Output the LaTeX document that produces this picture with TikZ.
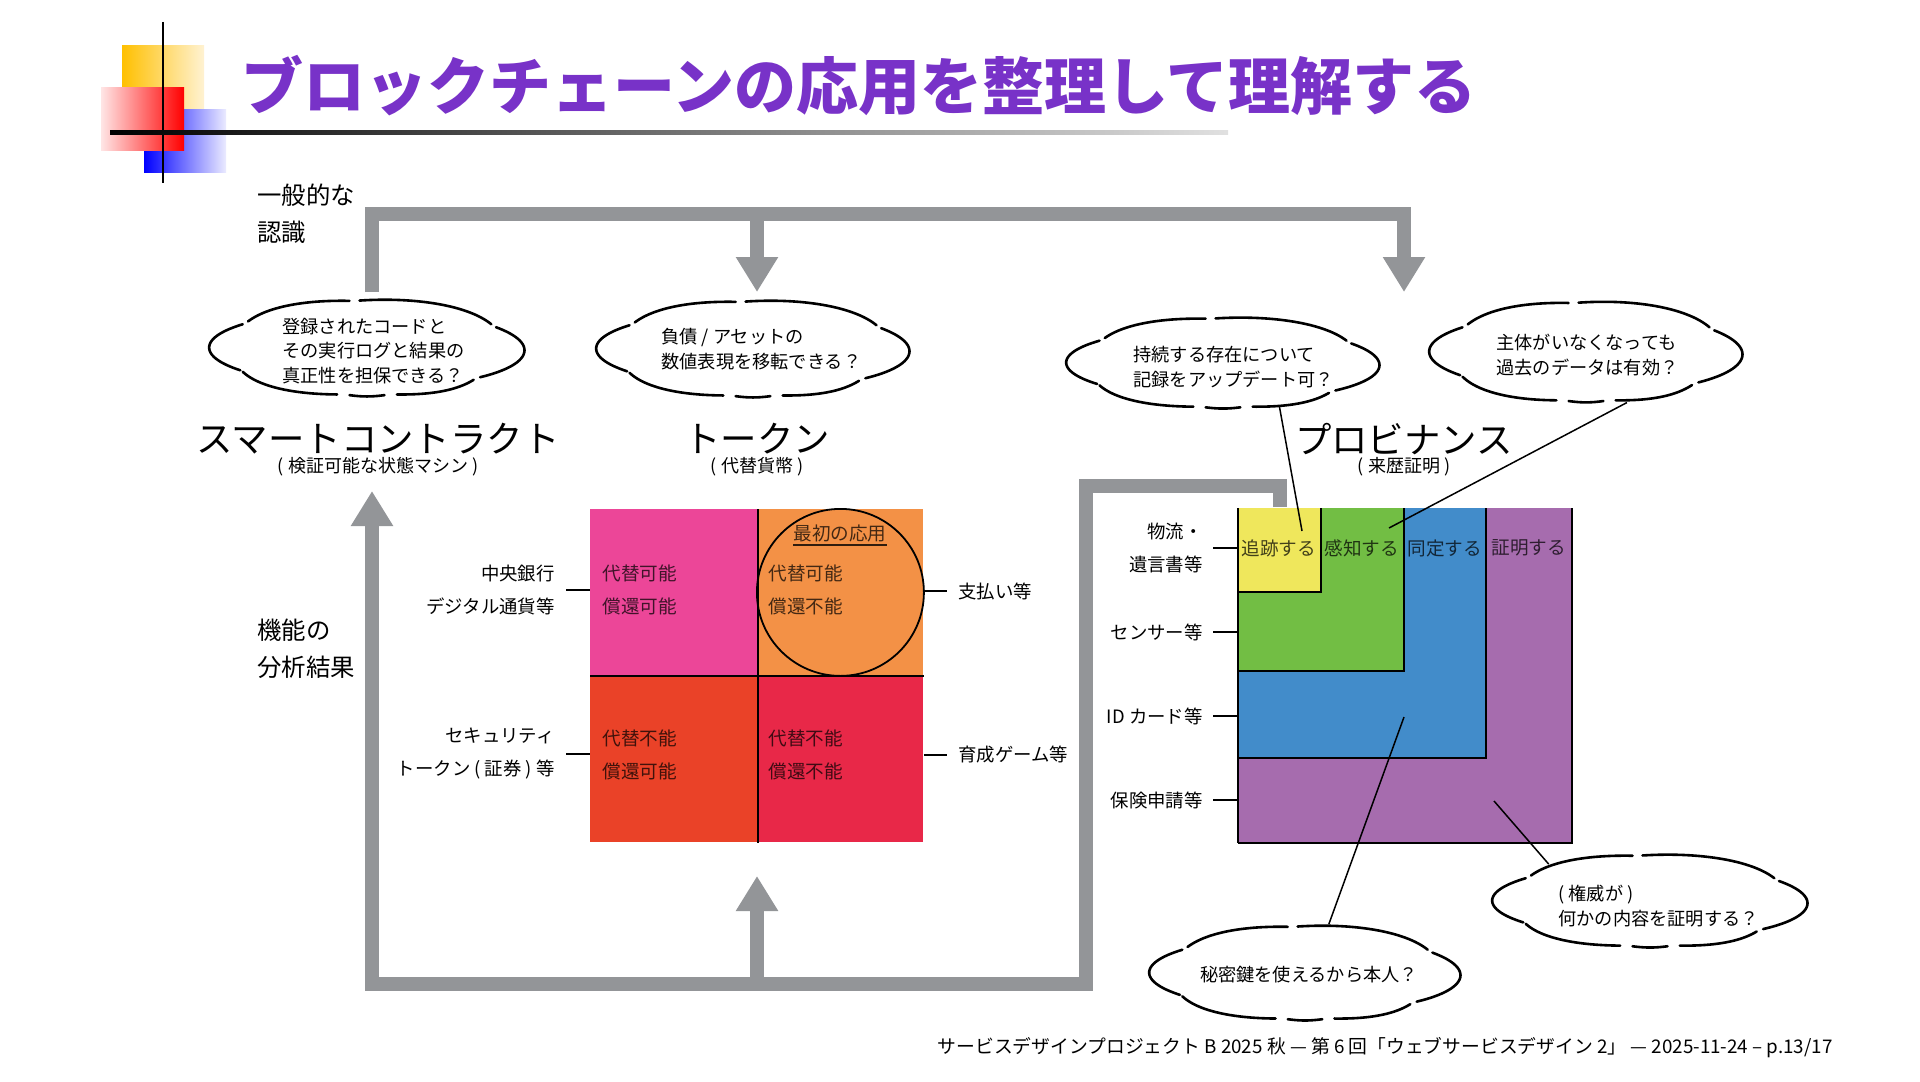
\documentclass[tikz,border=0pt]{standalone}
\usepackage{fontspec}
\setmainfont{Noto Sans CJK JP}
\usetikzlibrary{arrows.meta,shapes.geometric}
\definecolor{titlepurple}{RGB}{120,50,200}
\definecolor{gbar}{RGB}{147,149,152}
\definecolor{cpink}{RGB}{236,70,152}
\definecolor{corange}{RGB}{243,145,70}
\definecolor{cred}{RGB}{234,66,40}
\definecolor{ccrimson}{RGB}{232,40,72}
\definecolor{ppurple}{RGB}{166,108,174}
\definecolor{pblue}{RGB}{66,140,202}
\definecolor{pgreen}{RGB}{114,190,68}
\definecolor{pyellow}{RGB}{239,231,92}
\definecolor{decoyellow}{RGB}{255,192,0}
\definecolor{decoyellowl}{RGB}{255,242,210}
\newcommand{\fsz}[2]{\fontsize{#1}{#2}\selectfont}
% cloud: name, cx, cy, a, b (px)
\newcommand{\cloudoutline}[5]{%
  \node[ellipse, minimum width=#4pt, minimum height=#5pt, inner sep=0pt] (#1) at (#2,#3) {};
  \foreach \ta/\tb/\kk in {150/208/0.10, 97/146/0.05, 30/93/0.05, -38/26/0.10, -78/-42/0.05, -97/-83/0.02, -150/-102/0.05}{%
    \draw[cloudline] plot[domain=\ta:\tb, samples=30, smooth]
      ({#2+0.92*#4*(1+\kk*sin(180*(\x-(\ta))/((\tb)-(\ta))))*cos(\x)},
       {#3-0.95*#5*(1+\kk*sin(180*(\x-(\ta))/((\tb)-(\ta))))*sin(\x)});
  }%
}
\begin{document}
\begin{tikzpicture}[x=0.5pt,y=-0.5pt,
  cloudline/.style={line width=1.3pt, line cap=round},
  gline/.style={draw=gbar, line width=7pt, line join=miter},
  garrow/.style={-{Triangle[length=17.5pt,width=20pt]}},
  heading/.style={inner sep=0pt, font=\fsz{18.2pt}{22pt}},
  subhead/.style={inner sep=0pt, font=\fsz{9pt}{11pt}},
  cloudtext/.style={inner sep=0pt, align=left, font=\fsz{9.1pt}{12.4pt}},
  lab/.style={inner sep=0pt, font=\fsz{9.2pt}{16.5pt}},
  biglab/.style={inner sep=0pt, align=left, font=\fsz{12.2pt}{18.5pt}},
  celltext/.style={inner sep=0pt, align=left, font=\fsz{9.3pt}{16.5pt}, text opacity=0.72},
  cellbox/.style={inner sep=0pt, anchor=north west, draw=none},
  tick/.style={line width=1pt},
  thin/.style={line width=0.75pt}]
\useasboundingbox (0,0) rectangle (1920,1081);

% ---------- title decoration ----------
\shade[left color=decoyellow, right color=decoyellowl] (122,46) rectangle (204,114);
\shade[left color=blue, right color=blue!8] (144,110) rectangle (226,172);
\shade[left color=red!10, right color=red] (101,88) rectangle (184,150);
\draw[line width=1pt] (163,22) -- (163,183);
\shade[left color=black, right color=black!12] (110,130) rectangle (1228,134);
\node[anchor=west, inner sep=0pt, text=titlepurple, font=\fsz{31pt}{36pt}\bfseries] (title) at (241,86) {ブロックチェーンの応用を整理して理解する};

% ---------- side labels ----------
\node[biglab, anchor=west] (ippan) at (257,214) {一般的な\\認識};
\node[biglab, anchor=west] (kinou) at (257,649) {機能の\\分析結果};

% ---------- clouds ----------
\cloudoutline{cl1}{367}{348}{156}{50}
\node[cloudtext, anchor=west] (t1) at (282,351) {登録されたコードと\\その実行ログと結果の\\真正性を担保できる？};
\cloudoutline{cl2}{753}{349}{155}{50}
\node[cloudtext, anchor=west] (t2) at (661,349) {負債 / アセットの\\数値表現を移転できる？};
\cloudoutline{cl3}{1223}{363}{155}{47}
\node[cloudtext, anchor=west] (t3) at (1133,367) {持続する存在について\\記録をアップデート可？};
\cloudoutline{cl4}{1586}{352}{155}{52}
\node[cloudtext, anchor=west] (t4) at (1496,355) {主体がいなくなっても\\過去のデータは有効？};
\cloudoutline{cl5}{1650}{901}{156}{48}
\node[cloudtext, anchor=west] (t5) at (1558,906) {( 権威が )\\何かの内容を証明する？};
\cloudoutline{cl6}{1305}{973}{154}{49}
\node[cloudtext] (t6) at (1309,975) {秘密鍵を使えるから本人？};

% ---------- headings ----------
\node[heading] (hsc) at (378,439) {スマートコントラクト};
\node[subhead] (ssc) at (378,467) {( 検証可能な状態マシン )};
\node[heading] (htk) at (757,439) {トークン};
\node[subhead] (stk) at (757,467) {( 代替貨幣 )};
\node[heading] (hpv) at (1404,439) {プロビナンス};
\node[subhead] (spv) at (1404,467) {( 来歴証明 )};

% ---------- gray flow bars ----------
\coordinate (tA) at (372,292);
\coordinate (tAc) at (372,214);
\coordinate (tM0) at (757,214);
\coordinate (tM) at (757,292);
\coordinate (tB) at (1404,292);
\draw[gline, garrow] (tA) -- (tAc) -| (tB);
\draw[gline, garrow] (tM0) -- (tM);

\coordinate (bS) at (1280,507);
\coordinate (bS1) at (1280,486);
\coordinate (bR) at (1086,486);
\coordinate (bRb) at (1086,984);
\coordinate (bLb) at (372,984);
\coordinate (bL) at (372,491);
\coordinate (bM0) at (757,984);
\coordinate (bM) at (757,876);
\draw[gline, garrow] (bS) -- (bS1) -- (bR) -- (bRb) -- (bLb) -- (bL);
\draw[gline, garrow] (bM0) -- (bM);

% ---------- token grid ----------
\node[cellbox, fill=cpink, minimum width=83.5pt, minimum height=83pt] (tl) at (590,509) {};
\node[cellbox, fill=corange, minimum width=83pt, minimum height=83pt] (tr) at (757,509) {};
\node[cellbox, fill=cred, minimum width=83.5pt, minimum height=83.5pt] (bl) at (590,675) {};
\node[cellbox, fill=ccrimson, minimum width=83pt, minimum height=83.5pt] (br) at (757,675) {};
\draw[line width=1pt] (tl.north east) -- (bl.south east);
\draw[line width=1pt] (tl.south west) -- (tr.south east);
\draw[line width=0.9pt] (tr.center) circle [radius=41.75pt];
\node[inner sep=0pt, font=\fsz{9.3pt}{11pt}, text opacity=0.72] (first) at (840,533) {最初の応用};
\draw[line width=1.1pt, opacity=0.8] ([yshift=-1.5pt]first.south west) -- ([yshift=-1.5pt]first.south east);

\node[celltext, anchor=west] (c1) at (602,590) {代替可能\\償還可能};
\node[celltext, anchor=west] (c2) at (768,590) {代替可能\\償還不能};
\node[celltext, anchor=west] (c3) at (602,754.5) {代替不能\\償還可能};
\node[celltext, anchor=west] (c4) at (768,754.5) {代替不能\\償還不能};

\node[lab, anchor=east, align=right] (l1) at (555,590) {中央銀行\\デジタル通貨等};
\node[lab, anchor=east, align=right] (l2) at (555,754) {セキュリティ\\トークン ( 証券 ) 等};
\node[lab, anchor=west] (r1) at (958,591) {支払い等};
\node[lab, anchor=west] (r2) at (958,755) {育成ゲーム等};
\draw[tick] ([xshift=5.5pt]l1.east) -- (l1.east -| tl.west);
\draw[tick] ([xshift=5.5pt]l2.east) -- (l2.east -| bl.west);
\draw[tick] (r1.west -| tr.east) -- ([xshift=-5.5pt]r1.west);
\draw[tick] (r2.west -| br.east) -- ([xshift=-5.5pt]r2.west);

% ---------- provenance nested boxes ----------
\node[cellbox, fill=ppurple, minimum width=166.5pt, minimum height=167pt] (pp) at (1238,508) {};
\node[cellbox, fill=pblue, minimum width=123.5pt, minimum height=124.5pt] (pb) at (1238,508) {};
\node[cellbox, fill=pgreen, minimum width=82.5pt, minimum height=81pt] (pg) at (1238,508) {};
\node[cellbox, fill=pyellow, minimum width=41pt, minimum height=41.5pt] (py) at (1238,508) {};
\foreach \b in {pp,pb,pg,py}{
  \draw[line width=1pt] (\b.north east) -- (\b.south east) -- (\b.south west);
}
\draw[line width=1pt] (pp.north west) -- (pp.south west);
\node[celltext, anchor=west] (w1) at (1241,548) {追跡する};
\node[celltext, anchor=west] (w2) at (1324,548) {感知する};
\node[celltext, anchor=west] (w3) at (1407,548) {同定する};
\node[celltext, anchor=west] (w4) at (1491,548) {証明する};

\node[lab, anchor=east, align=right] (q1) at (1203,548) {物流・\\遺言書等};
\node[lab, anchor=east] (q2) at (1203,632) {センサー等};
\node[lab, anchor=east] (q3) at (1203,716) {ID カード等};
\node[lab, anchor=east] (q4) at (1203,800) {保険申請等};
\draw[tick] ([xshift=5pt]q1.east) -- (q1.east -| pp.west);
\draw[tick] ([xshift=5pt]q2.east) -- (q2.east -| pp.west);
\draw[tick] ([xshift=5pt]q3.east) -- (q3.east -| pp.west);
\draw[tick] ([xshift=5pt]q4.east) -- (q4.east -| pp.west);

% ---------- thin connectors ----------
\coordinate (p3) at (1302,531);
\coordinate (p4) at (1389,528);
\coordinate (p6) at (1404,717);
\coordinate (p5) at (1494,801);
\draw[thin] (cl3.-38) -- (p3);
\draw[thin] (cl4.-51) -- (p4);
\draw[thin] (p6) -- (cl6.64);
\draw[thin] (p5) -- (cl5.160);

% ---------- footer ----------
\node[anchor=east, inner sep=0pt, font=\fsz{9.4pt}{11pt}] (foot) at (1833,1048) {サービスデザインプロジェクト B 2025 秋 — 第 6 回「ウェブサービスデザイン 2」 — 2025-11-24 – p.13/17};
\end{tikzpicture}
\end{document}
